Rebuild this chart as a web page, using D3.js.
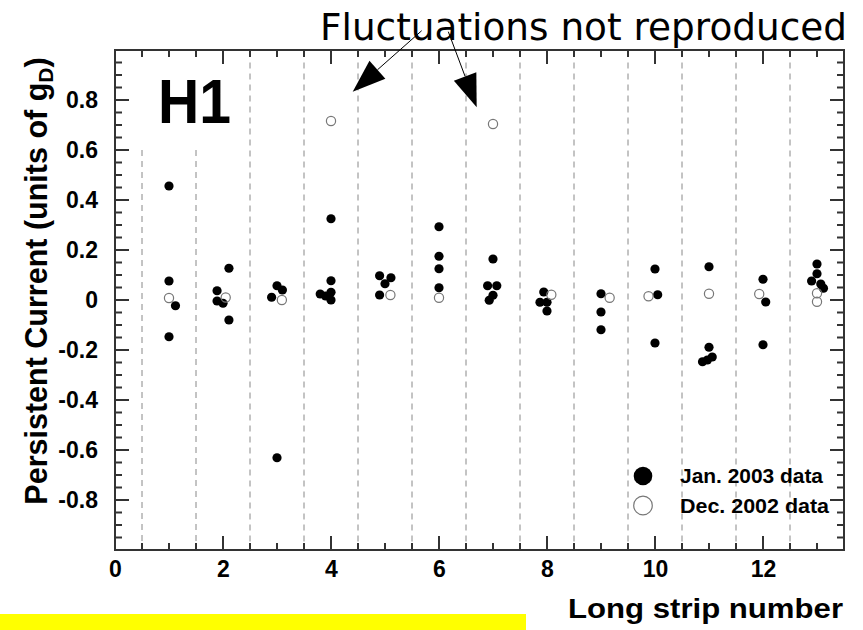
<!DOCTYPE html>
<html>
<head>
<meta charset="utf-8">
<script src="https://cdn.jsdelivr.net/npm/d3@7"></script>
</head>
<body style="margin:0">
<div id="chart"></div>
<script>
// Jan. 2003 data (filled markers): strip number and persistent current
const janStrip = [
  1.0, 1.0, 1.12, 1.0,
  2.11, 1.89, 1.89, 2.0, 2.11,
  3.0, 3.1, 2.9, 3.0,
  4.0, 4.0, 3.8, 3.9, 4.0, 4.0,
  4.9, 5.11, 5.0, 4.9,
  6.0, 6.0, 6.0, 6.0,
  7.0, 6.9, 7.07, 7.0, 6.93,
  7.94, 7.87, 8.0, 8.0,
  9.0, 9.0, 9.0,
  10.0, 10.05, 10.0,
  11.0, 11.0, 10.88, 10.97, 11.06,
  12.0, 12.05, 12.0,
  13.0, 13.0, 12.9, 13.07, 13.12
];
const janCurrent = [
  0.456, 0.076, -0.023, -0.147,
  0.127, 0.037, -0.004, -0.013, -0.08,
  0.057, 0.04, 0.011, -0.631,
  0.325, 0.077, 0.024, 0.016, 0.031, 0.0,
  0.097, 0.089, 0.065, 0.02,
  0.293, 0.175, 0.125, 0.049,
  0.164, 0.057, 0.057, 0.019, -0.001,
  0.032, -0.009, -0.009, -0.044,
  0.025, -0.048, -0.119,
  0.124, 0.021, -0.172,
  0.133, -0.189, -0.247, -0.24, -0.228,
  0.083, -0.008, -0.179,
  0.144, 0.105, 0.076, 0.064, 0.047
];

// Dec. 2002 data (open markers)
const decStrip = [1.0, 2.05, 3.09, 4.0, 5.1, 6.0, 7.0, 8.08, 9.16, 9.88, 11.0, 11.93, 13.0, 13.0];
const decCurrent = [0.008, 0.01, 0.0, 0.716, 0.02, 0.009, 0.704, 0.021, 0.009, 0.015, 0.025, 0.024, 0.027, -0.007];

// strip boundaries (dashed) and the value each one starts from
const dividers = [0.5, 1.5, 2.5, 3.5, 4.5, 5.5, 6.5, 7.5, 8.5, 9.5, 10.5, 11.5, 12.5];
const dividerTop = [0.6, 0.6, 0.95, 0.95, 0.95, 0.95, 0.95, 0.95, 0.95, 0.95, 0.95, 0.95, 0.95];

const xTickValues = [0, 2, 4, 6, 8, 10, 12];
const yTickValues = [-0.8, -0.6, -0.4, -0.2, 0, 0.2, 0.4, 0.6, 0.8];
const legendLabels = ["Jan. 2003 data", "Dec. 2002 data"];

const plotLeft = 115, plotRight = 844, plotTop = 50, plotBottom = 550;
const axisColor = "#333";
const labelFont = "'Liberation Sans', Arial, sans-serif";

const svg = d3.select("#chart")
  .append("svg")
  .attr("width", 863)
  .attr("height", 630)
  .style("display", "block")
  .style("font-family", labelFont);

const x = d3.scaleLinear().domain([0, 13.5]).range([plotLeft, plotRight]);
const y = d3.scaleLinear().domain([-1, 1]).range([plotBottom, plotTop]);

// yellow strip at the bottom
svg.append("rect")
  .attr("x", 0).attr("y", 614)
  .attr("width", 526).attr("height", 16)
  .attr("fill", "#ffff00");

// dashed strip dividers
svg.append("g")
  .selectAll("line")
  .data(dividers)
  .enter().append("line")
  .attr("x1", function (d) { return x(d); })
  .attr("x2", function (d) { return x(d); })
  .attr("y1", function (d, i) { return y(dividerTop[i]); })
  .attr("y2", y(-0.97))
  .attr("stroke", "#888")
  .attr("stroke-width", 1)
  .attr("stroke-dasharray", "6,5");

// tick positions: major every 2 strips / 0.2, minor every 0.5 strip / 0.05
const xMinor = [];
for (let v = 0.5; v < 13.5; v += 0.5) { if (v % 2 !== 0) xMinor.push(v); }
const yMinor = [];
for (let k = -19; k <= 19; k++) { if (k % 4 !== 0) yMinor.push(k * 0.05); }

// frame and inward ticks on all four sides, one path
const framePath = d3.path();
framePath.rect(plotLeft, plotTop, plotRight - plotLeft, plotBottom - plotTop);
function xTick(v, len) {
  framePath.moveTo(x(v), plotBottom); framePath.lineTo(x(v), plotBottom - len);
  framePath.moveTo(x(v), plotTop); framePath.lineTo(x(v), plotTop + len);
}
function yTick(v, len) {
  framePath.moveTo(plotLeft, y(v)); framePath.lineTo(plotLeft + len, y(v));
  framePath.moveTo(plotRight, y(v)); framePath.lineTo(plotRight - len, y(v));
}
xTickValues.forEach(function (v) { xTick(v, 14); });
xMinor.forEach(function (v) { xTick(v, 7); });
yTickValues.forEach(function (v) { yTick(v, 14); });
yMinor.forEach(function (v) { yTick(v, 7); });

svg.append("path")
  .attr("d", framePath.toString())
  .attr("fill", "none")
  .attr("stroke", axisColor)
  .attr("stroke-width", 2);

// tick labels from d3 axes
const xAxisG = svg.append("g")
  .attr("transform", "translate(0," + plotBottom + ")")
  .call(d3.axisBottom(x).tickValues(xTickValues).tickSize(0).tickPadding(11).tickFormat(d3.format("d")));
xAxisG.select(".domain").remove();
xAxisG.selectAll(".tick line").remove();
xAxisG.selectAll(".tick text")
  .attr("fill", "#000")
  .style("font-size", "23px")
  .style("font-weight", "bold")
  .style("font-family", labelFont);

const yAxisG = svg.append("g")
  .attr("transform", "translate(" + plotLeft + ",0)")
  .call(d3.axisLeft(y).tickValues(yTickValues).tickSize(0).tickPadding(17)
    .tickFormat(function (d) { return Math.abs(d) < 1e-9 ? "0" : d.toFixed(1); }));
yAxisG.select(".domain").remove();
yAxisG.selectAll(".tick line").remove();
yAxisG.selectAll(".tick text")
  .attr("fill", "#000")
  .style("font-size", "23px")
  .style("font-weight", "bold")
  .style("font-family", labelFont);

// Jan. 2003 points
svg.append("g")
  .selectAll("circle")
  .data(d3.range(janStrip.length))
  .enter().append("circle")
  .attr("cx", function (i) { return x(janStrip[i]); })
  .attr("cy", function (i) { return y(janCurrent[i]); })
  .attr("r", 4.6)
  .attr("fill", "#000");

// Dec. 2002 points
svg.append("g")
  .selectAll("circle")
  .data(d3.range(decStrip.length))
  .enter().append("circle")
  .attr("cx", function (i) { return x(decStrip[i]); })
  .attr("cy", function (i) { return y(decCurrent[i]); })
  .attr("r", 4.6)
  .attr("fill", "none")
  .attr("stroke", "#777")
  .attr("stroke-width", 1.2);

// H1 label
svg.append("text")
  .attr("x", 158).attr("y", 123)
  .attr("textLength", 73)
  .attr("lengthAdjust", "spacingAndGlyphs")
  .style("font-size", "63px")
  .style("font-weight", "bold")
  .text("H1");

// legend
const legend = svg.append("g");
legendLabels.forEach(function (label, i) {
  const ly = 476 + i * 29.5;
  legend.append("circle")
    .attr("cx", 643).attr("cy", ly).attr("r", 9.3)
    .attr("fill", i === 0 ? "#000" : "none")
    .attr("stroke", i === 0 ? "none" : "#777")
    .attr("stroke-width", 1.2);
  legend.append("text")
    .attr("x", 680).attr("y", ly + 7)
    .attr("textLength", i === 0 ? 143 : 149)
    .attr("lengthAdjust", "spacingAndGlyphs")
    .style("font-size", "20px")
    .style("font-weight", "bold")
    .text(label);
});

// axis titles
svg.append("text")
  .attr("x", 568).attr("y", 618)
  .attr("textLength", 275)
  .attr("lengthAdjust", "spacingAndGlyphs")
  .style("font-size", "28px")
  .style("font-weight", "bold")
  .text("Long strip number");

const yTitle = svg.append("text")
  .attr("transform", "translate(47,281)rotate(-90)")
  .attr("text-anchor", "middle")
  .style("font-size", "30.5px")
  .style("font-weight", "bold");
yTitle.append("tspan").text("Persistent Current (units of g");
yTitle.append("tspan").attr("dy", 6).style("font-size", "21px").text("D");
yTitle.append("tspan").attr("dy", -6).text(")");

// annotation with two arrows
svg.append("text")
  .attr("x", 320).attr("y", 40)
  .attr("textLength", 527)
  .attr("lengthAdjust", "spacingAndGlyphs")
  .style("font-family", "'DejaVu Sans', sans-serif")
  .style("font-size", "37.5px")
  .text("Fluctuations not reproduced");

/**
 * Draws a thin line ending in a big filled arrowhead
 */
function arrow(x0, y0, x1, y1) {
  const len = 33, half = 12;
  const dx = x1 - x0, dy = y1 - y0;
  const d = Math.sqrt(dx * dx + dy * dy);
  const ux = dx / d, uy = dy / d;
  const bx = x1 - ux * len, by = y1 - uy * len;
  svg.append("line")
    .attr("x1", x0).attr("y1", y0).attr("x2", bx).attr("y2", by)
    .attr("stroke", "#000").attr("stroke-width", 1);
  svg.append("polygon")
    .attr("points", [
      [x1, y1],
      [bx - uy * half, by + ux * half],
      [bx + uy * half, by - ux * half]
    ].map(function (p) { return p.join(","); }).join(" "))
    .attr("fill", "#000");
}
arrow(421.7, 30.7, 352.7, 91.7);
arrow(448.3, 31.7, 476.7, 107.3);
</script>
</body>
</html>
